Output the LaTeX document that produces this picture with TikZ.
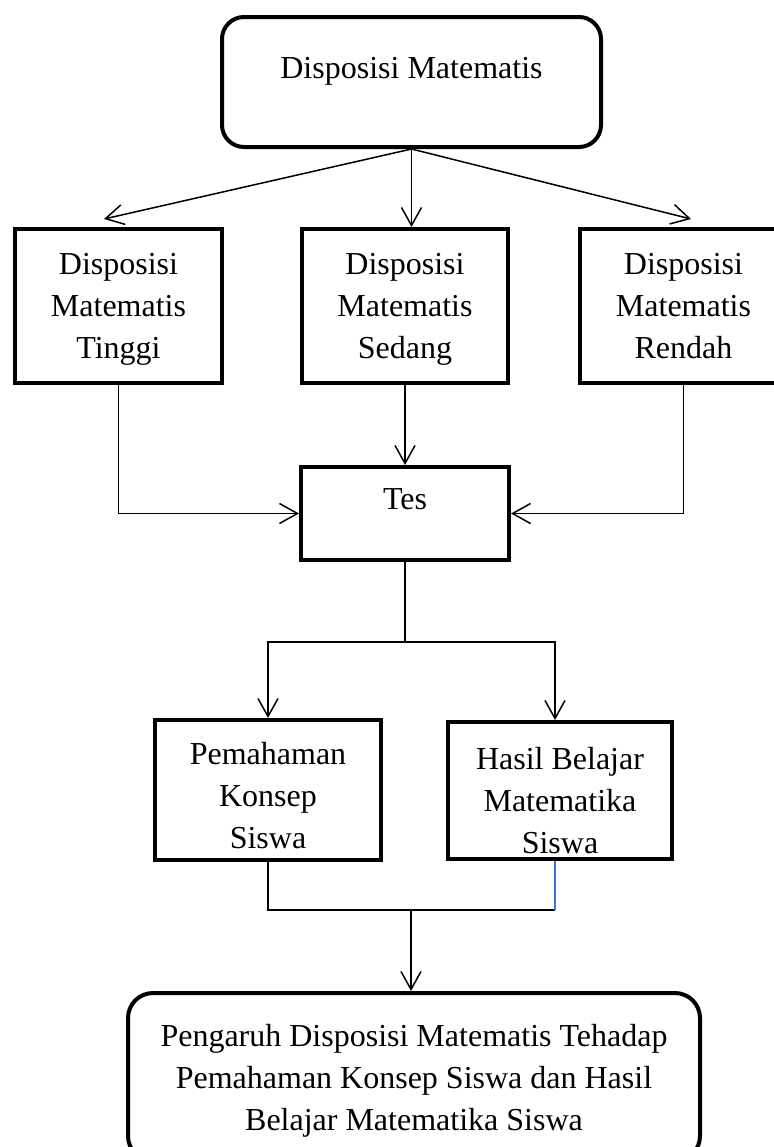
\documentclass[tikz,border=0pt]{standalone}
\usepackage{fontspec}
\setmainfont{Liberation Serif}
\usetikzlibrary{arrows.meta}
\definecolor{modra}{HTML}{4472C4}

\begin{document}
\begin{tikzpicture}[x=0.5pt, y=-0.5pt,
    okvir/.style={draw, line width=2pt, align=center, inner sep=0pt,
      font=\fontsize{16}{21}\selectfont},
    zaobljen/.style={okvir, rounded corners=11pt},
    puscica/.style={-{Straight Barb[length=9pt, width=10pt]}, line width=0.75pt}]
  \useasboundingbox (0, 0) rectangle (774, 1147);
  % koordinate
  \coordinate (A) at (411.5, 82);
  \coordinate (B1) at (118.5, 306);
  \coordinate (B2) at (405, 306);
  \coordinate (B3) at (683.5, 306);
  \coordinate (C) at (405, 513.5);
  \coordinate (D1) at (268, 790);
  \coordinate (D2) at (560, 790.5);
  \coordinate (E) at (414, 1077);
  \coordinate (Lt) at (104, 219);
  \coordinate (Dt) at (691, 219);
  \coordinate (R) at (405, 642);
  \coordinate (S) at (411, 910);
  % okvirji
  \node (vrh) at (A) [zaobljen, minimum width=189.5pt, minimum height=65pt, text depth=14pt]
    {Disposisi Matematis};
  \node (tinggi) at (B1) [okvir, minimum width=103.5pt, minimum height=77pt]
    {\rule{0pt}{14pt}Disposisi\\Matematis\\Tinggi};
  \node (sedang) at (B2) [okvir, minimum width=103pt, minimum height=77pt]
    {\rule{0pt}{14pt}Disposisi\\Matematis\\Sedang};
  \node (rendah) at (B3) [okvir, minimum width=103.5pt, minimum height=77pt]
    {\rule{0pt}{14pt}Disposisi\\Matematis\\Rendah\rule[-3.5pt]{0pt}{0pt}};
  \node (tes) at (C) [okvir, minimum width=104pt, minimum height=46.5pt, text depth=14pt]
    {Tes};
  \node (paham) at (D1) [okvir, minimum width=113pt, minimum height=70pt]
    {\rule{0pt}{17pt}Pemahaman\\Konsep\\Siswa};
  \node (hasil) at (D2) [okvir, minimum width=112pt, minimum height=68.5pt]
    {\rule{0pt}{21pt}Hasil Belajar\\Matematika\\Siswa};
  \node (konec) at (E) [zaobljen, rounded corners=12.5pt, minimum width=286pt, minimum height=84pt]
    {\rule{0pt}{15pt}Pengaruh Disposisi Matematis Tehadap\\Pemahaman Konsep Siswa dan Hasil\\Belajar Matematika Siswa};
  % puscice
  \draw [puscica] (vrh.south) -- (Lt);
  \draw [puscica] (vrh.south) -- (vrh.south |- sedang.north);
  \draw [puscica] (vrh.south) -- (Dt);
  \draw [puscica] (tinggi.south) |- (tes.west);
  \draw [puscica] (sedang.south) -- (tes.north);
  \draw [puscica] (rendah.south) |- (tes.east);
  \draw [line width=0.75pt] (tes.south) -- (R);
  \draw [puscica] (R) -| (paham.north);
  \draw [puscica] (R) -| ([xshift=-2.5pt]hasil.north);
  % crte
  \draw [line width=0.75pt] (paham.south) |- ([xshift=-2.5pt]hasil.south |- S);
  \draw [line width=0.75pt, modra] ([xshift=-2.5pt]hasil.south) -- ([xshift=-2.5pt]hasil.south |- S);
  \draw [puscica] (S) -- (S |- konec.north);
\end{tikzpicture}
\end{document}
